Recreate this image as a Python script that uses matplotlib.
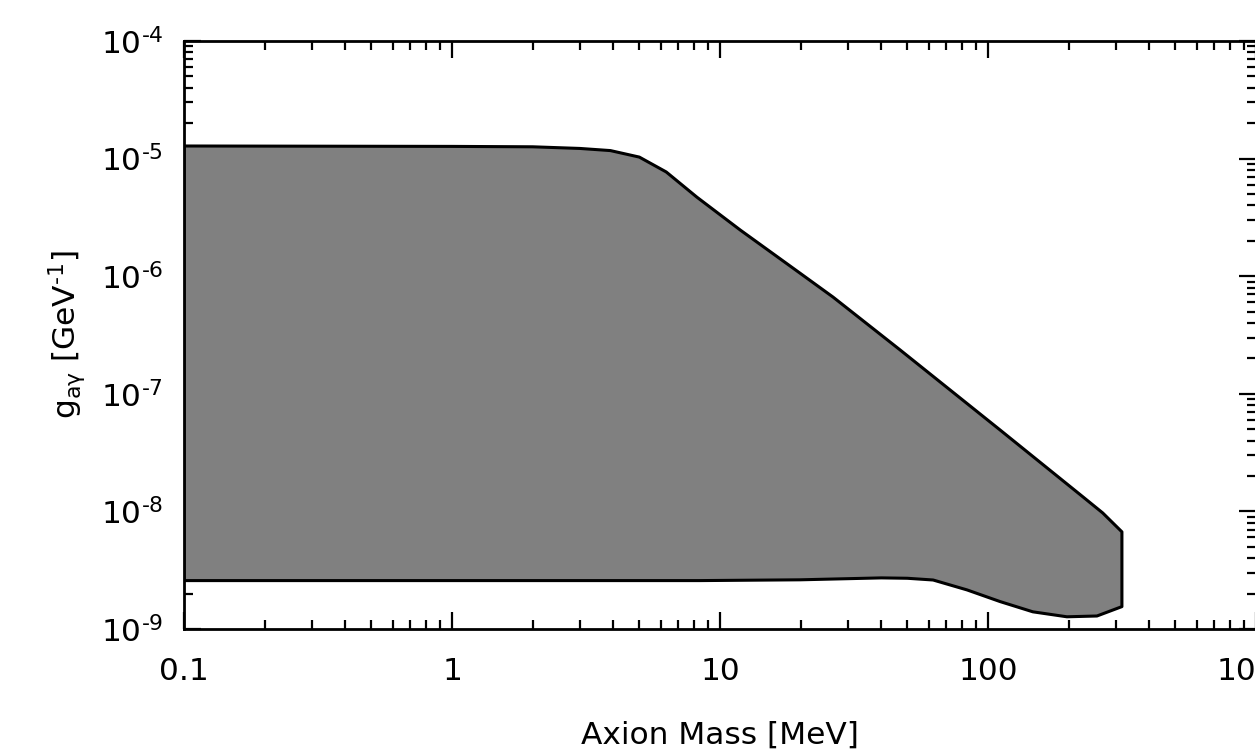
import matplotlib
matplotlib.use("Agg")
import matplotlib.pyplot as plt
from matplotlib.ticker import LogLocator, FixedLocator, FixedFormatter, NullFormatter

plt.rcParams['font.family'] = ['DejaVu Sans']
plt.rcParams['mathtext.fontset'] = 'dejavusans'

# Upper boundary of excluded region (mass in MeV, coupling in GeV^-1)
upper_mass = [0.1, 1.0, 2.0, 3.0, 3.9, 5.0, 6.3, 8.2, 11.9, 19.9, 26.4, 47.0, 111.0, 226.0, 268.0, 316.0]
upper_g = [1.28e-5, 1.27e-5, 1.26e-5, 1.22e-5, 1.17e-5, 1.03e-5, 7.7e-6, 4.7e-6,
           2.47e-6, 1.06e-6, 6.65e-7, 2.36e-7, 4.92e-8, 1.33e-8, 9.7e-9, 6.7e-9]

# Lower boundary of excluded region
lower_mass = [0.1, 1.0, 8.4, 19.9, 40.0, 50.0, 62.4, 83.5, 111.0, 147.0, 197.0, 255.0, 316.0]
lower_g = [2.58e-9, 2.58e-9, 2.58e-9, 2.62e-9, 2.72e-9, 2.70e-9, 2.61e-9, 2.15e-9,
           1.71e-9, 1.40e-9, 1.27e-9, 1.29e-9, 1.55e-9]

xtick_vals = [0.1, 1, 10, 100, 1000]
xtick_labels = ['0.1', '1', '10', '100', '1000']
ytick_vals = [1e-9, 1e-8, 1e-7, 1e-6, 1e-5, 1e-4]
ytick_labels = ['$\\mathregular{10^{\u20109}}$', '$\\mathregular{10^{\u20108}}$', '$\\mathregular{10^{\u20107}}$',
                '$\\mathregular{10^{\u20106}}$', '$\\mathregular{10^{\u20105}}$', '$\\mathregular{10^{\u20104}}$']

fig = plt.figure(figsize=(12.55, 7.5), dpi=100)
ax = fig.add_axes([184 / 1255, (750 - 629) / 750, (1256 - 184) / 1255, 588 / 750])

poly_x = upper_mass + lower_mass[::-1]
poly_y = upper_g + lower_g[::-1]
ax.fill(poly_x, poly_y, facecolor='#808080', edgecolor='black', linewidth=2.2,
        joinstyle='round', zorder=2)

ax.set_xscale('log')
ax.set_yscale('log')
ax.set_xlim(0.1, 1000)
ax.set_ylim(1e-9, 1e-4)

ax.xaxis.set_major_locator(FixedLocator(xtick_vals))
ax.xaxis.set_major_formatter(FixedFormatter(xtick_labels))
ax.xaxis.set_minor_locator(LogLocator(base=10, subs=range(2, 10), numticks=20))
ax.xaxis.set_minor_formatter(NullFormatter())
ax.yaxis.set_major_locator(FixedLocator(ytick_vals))
ax.yaxis.set_major_formatter(FixedFormatter(ytick_labels))
ax.yaxis.set_minor_locator(LogLocator(base=10, subs=range(2, 10), numticks=20))
ax.yaxis.set_minor_formatter(NullFormatter())

for s in ax.spines.values():
    s.set_linewidth(2.0)
    s.set_zorder(5)

ax.tick_params(which='both', direction='in', top=True, right=True, width=1.6, colors='black', zorder=6)
ax.tick_params(which='major', length=12)
ax.tick_params(which='minor', length=6.5)
ax.tick_params(axis='x', which='major', labelsize=22.5, pad=20)
ax.tick_params(axis='y', which='major', labelsize=22.5, pad=15)

ax.set_xlabel('Axion Mass [MeV]', fontsize=22.5)
ax.set_ylabel('g$_{\\mathregular{a\u03b3}}$ [GeV$^{\\mathregular{\u20101}}$]', fontsize=22.5)
ax.xaxis.set_label_coords(0.5, (629 - 721) / 588)
ax.yaxis.set_label_coords((88 - 184) / 1072, 0.5)

fig.savefig('out.png', dpi=100)
